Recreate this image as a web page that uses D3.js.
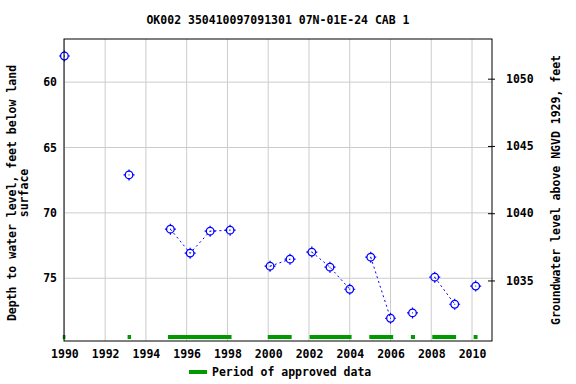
<!DOCTYPE html>
<html>
<head>
<meta charset="utf-8">
<script src="https://cdn.jsdelivr.net/npm/d3@7"></script>
<style>
  body { margin: 0; background: #fff; }
  text { font-family: "DejaVu Sans Mono", monospace; font-weight: bold; font-size: 11.5px; fill: #000; }
</style>
</head>
<body>
<div id="chart"></div>
<script>
const WIDTH = 576;
const HEIGHT = 384;
const margins = [64, 84, 39, 43]; // LEFT, RIGHT, TOP, BOTTOM

const TITLE = "OK002 350410097091301 07N-01E-24 CAB 1";

// measurements (decimal year, depth below land surface in feet), group = connected run
const years  = [1990.0, 1993.17, 1995.2, 1996.17, 1997.15, 1998.13, 2000.09, 2001.07, 2002.14, 2003.03, 2004.0, 2005.03, 2006.0, 2007.08, 2008.17, 2009.15, 2010.18];
const depths = [58.0, 67.1, 71.25, 73.08, 71.4, 71.32, 74.08, 73.54, 73.0, 74.15, 75.84, 73.39, 78.06, 77.65, 74.92, 76.99, 75.6];
const groups = [0, 1, 2, 2, 2, 2, 3, 3, 4, 4, 4, 5, 5, 6, 7, 7, 8];

// periods of approved data
const approvedStart = [1989.92, 1993.1, 1995.08, 1999.98, 2002.03, 2004.96, 2007.0, 2008.05, 2010.08];
const approvedEnd   = [1990.05, 1993.27, 1998.2, 2001.15, 2004.09, 2006.13, 2007.2, 2009.22, 2010.27];

const xTicks = [1990, 1992, 1994, 1996, 1998, 2000, 2002, 2004, 2006, 2008, 2010];
const yTicks = [60, 65, 70, 75];
const elevTicks = [1035, 1040, 1045, 1050];

const svg = d3.select("#chart").append("svg")
    .attr("width", WIDTH).attr("height", HEIGHT);

const x = d3.scaleLinear()
    .domain([1989.98, 2010.98])
    .range([margins[0], WIDTH - margins[1]]);

const y = d3.scaleLinear()
    .domain([56.7, 79.8])
    .range([margins[2], HEIGHT - margins[3]]);

const yElev = d3.scaleLinear()
    .domain([1052.95, 1030.5])
    .range([margins[2], HEIGHT - margins[3]]);

const plotW = WIDTH - margins[0] - margins[1];
const plotH = HEIGHT - margins[2] - margins[3];

// grid
svg.append("g")
    .selectAll("line")
    .data(xTicks)
    .join("line")
    .attr("x1", d => x(d)).attr("x2", d => x(d))
    .attr("y1", margins[2]).attr("y2", HEIGHT - margins[3])
    .attr("stroke", "#cccccc");

svg.append("g")
    .selectAll("line")
    .data(yTicks)
    .join("line")
    .attr("x1", margins[0]).attr("x2", WIDTH - margins[1])
    .attr("y1", d => y(d)).attr("y2", d => y(d))
    .attr("stroke", "#cccccc");

// approved periods
svg.append("g")
    .selectAll("rect")
    .data(approvedStart.map((s, i) => ({ s: s, e: approvedEnd[i] })))
    .join("rect")
    .attr("x", d => x(d.s))
    .attr("width", d => x(d.e) - x(d.s))
    .attr("y", 335)
    .attr("height", 4)
    .attr("fill", "#009900");

// dotted connecting lines
const pts = years.map((yr, i) => ({ yr: yr, d: depths[i], g: groups[i] }));
const line = d3.line().x(d => x(d.yr)).y(d => y(d.d));
const byGroup = d3.groups(pts, d => d.g).map(g => g[1]).filter(g => g.length > 1);

svg.append("g")
    .selectAll("path")
    .data(byGroup)
    .join("path")
    .attr("d", line)
    .attr("fill", "none")
    .attr("stroke", "#0000ff")
    .attr("stroke-width", 1)
    .attr("stroke-dasharray", "2,3");

// markers
const marks = svg.append("g")
    .selectAll("g")
    .data(pts)
    .join("g")
    .attr("transform", d => `translate(${x(d.yr)},${y(d.d)})`);

marks.append("circle")
    .attr("r", 3.8)
    .attr("fill", "none")
    .attr("stroke", "#0000ff")
    .attr("stroke-width", 1.3);

marks.append("path")
    .attr("d", "M0,-5.5V-3.8M0,3.8V5.5M-5.5,0H-3.8M3.8,0H5.5")
    .attr("stroke", "#0000ff")
    .attr("stroke-width", 1.2);

marks.append("rect")
    .attr("x", -0.5).attr("y", -0.5)
    .attr("width", 1).attr("height", 1)
    .attr("fill", "#0000ff");

// frame
svg.append("rect")
    .attr("x", margins[0]).attr("y", margins[2])
    .attr("width", plotW).attr("height", plotH)
    .attr("fill", "none")
    .attr("stroke", "#000")
    .attr("stroke-width", 1);

// axes
const axisLeft = svg.append("g")
    .attr("transform", `translate(${margins[0]},0)`)
    .call(d3.axisLeft(y).tickValues(yTicks).tickSize(0).tickPadding(7));
axisLeft.select(".domain").remove();

const axisRight = svg.append("g")
    .attr("transform", `translate(${WIDTH - margins[1]},0)`)
    .call(d3.axisRight(yElev).tickValues(elevTicks).tickFormat(d3.format("d"))
        .tickSizeInner(3).tickSizeOuter(0).tickPadding(11));
axisRight.select(".domain").remove();
axisRight.selectAll(".tick line").attr("x1", -4).attr("x2", 3);

const axisBottom = svg.append("g")
    .attr("transform", `translate(0,${HEIGHT - margins[3]})`)
    .call(d3.axisBottom(x).tickValues(xTicks).tickFormat(d3.format("d")).tickSize(0).tickPadding(9));
axisBottom.select(".domain").remove();

svg.selectAll(".tick text")
    .style("font-family", "'DejaVu Sans Mono', monospace")
    .style("font-weight", "bold")
    .style("font-size", "11.5px");

// title
svg.append("text")
    .attr("x", margins[0] + plotW / 2)
    .attr("y", 24)
    .attr("text-anchor", "middle")
    .text(TITLE);

// y axis titles
svg.append("text")
    .attr("transform", `translate(16,${margins[2] + plotH / 2 + 3}) rotate(-90)`)
    .attr("text-anchor", "middle")
    .text("Depth to water level, feet below land");
svg.append("text")
    .attr("transform", `translate(28,${margins[2] + plotH / 2 + 3}) rotate(-90)`)
    .attr("text-anchor", "middle")
    .text("surface");

svg.append("text")
    .attr("transform", `translate(560,${margins[2] + plotH / 2}) rotate(-90)`)
    .attr("text-anchor", "middle")
    .text("Groundwater level above NGVD 1929, feet");

// legend
svg.append("line")
    .attr("x1", 189).attr("x2", 207)
    .attr("y1", 372).attr("y2", 372)
    .attr("stroke", "#009900")
    .attr("stroke-width", 4);
svg.append("text")
    .attr("x", 212)
    .attr("y", 376)
    .text("Period of approved data");
</script>
</body>
</html>
